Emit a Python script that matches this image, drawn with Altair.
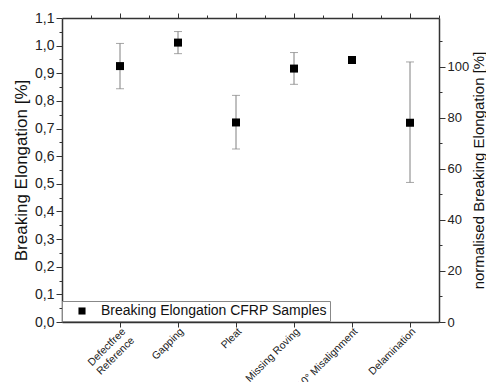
import altair as alt
import pandas as pd

categories = ["Defectfree Reference", "Gapping", "Pleat", "Missing Roving", "10° Misalignment", "Delamination"]
tick_labels = [["Defectfree", "Reference"], ["Gapping"], ["Pleat"], ["Missing Roving"], ["10° Misalignment"], ["Delamination"]]
means = [0.926, 1.011, 0.722, 0.917, 0.948, 0.721]
lower = [0.844, 0.971, 0.626, 0.860, 0.945, 0.505]
upper = [1.008, 1.051, 0.820, 0.975, 0.951, 0.941]
series_name = "Breaking Elongation CFRP Samples"

df = pd.DataFrame({
    "category": categories,
    "pos": list(range(1, len(categories) + 1)),
    "mean": means,
    "lower": lower,
    "upper": upper,
    "series": [series_name] * len(categories),
})
df["norm"] = df["mean"] / means[0] * 100

def js(v):
    if isinstance(v, list):
        return "[" + ",".join(js(x) for x in v) + "]"
    return "'" + v.replace("'", "\\'") + "'"

label_arr = "[''," + ",".join(js(l) for l in tick_labels) + "]"
x_label_expr = f"(datum.value % 1 == 0 && datum.value >= 1 && datum.value <= 6) ? {label_arr}[datum.value] : ''"

FONT = "Liberation Sans"
AX = "#333333"

xscale = alt.Scale(domain=[0, 6.5], nice=False, zero=False)
yscale = alt.Scale(domain=[0, 1.1], nice=False, zero=True)

x_axis = alt.Axis(
    values=[1, 2, 3, 4, 5, 6], labelExpr=x_label_expr, labelAngle=-45, labelAlign="right",
    labelBaseline="top", labelFontSize=10.5, labelPadding=-1, tickSize=5, title=None, grid=False,
    labelOverlap=False, labelBound=False, labelFlush=False,
    domainColor=AX, domainWidth=1.5, tickColor=AX, labelColor="#222",
)
y_vals = [round(i * 0.05, 2) for i in range(23)]
y_axis = alt.Axis(
    values=y_vals, labelOverlap=False, labelSeparation=0,
    labelExpr="round(datum.value*20) % 2 == 0 ? replace(format(datum.value, '.1f'), '.', ',') : ''",
    tickSize={"condition": {"test": "round(datum.value*20) % 2 == 0", "value": 6}, "value": 3},
    labelFontSize=14, labelPadding=2, title="Breaking Elongation [%]", titleFontSize=17,
    titleFontWeight="normal", titlePadding=4, grid=False, domainColor=AX, domainWidth=1.5,
    tickColor=AX, labelColor="#222", titleColor="#111",
)

base = alt.Chart(df).encode(x=alt.X("pos:Q", scale=xscale, axis=x_axis))
rules = base.mark_rule(color="#808080", strokeWidth=1).encode(
    y=alt.Y("lower:Q", scale=yscale, axis=y_axis), y2="upper:Q")
cap_hi = base.mark_tick(color="#808080", size=8, thickness=1, orient="horizontal").encode(
    y=alt.Y("upper:Q", scale=yscale, axis=y_axis))
cap_lo = base.mark_tick(color="#808080", size=8, thickness=1, orient="horizontal").encode(
    y=alt.Y("lower:Q", scale=yscale, axis=y_axis))
pts = base.mark_square(size=64, opacity=1).encode(
    y=alt.Y("mean:Q", scale=yscale, axis=y_axis),
    color=alt.Color("series:N", scale=alt.Scale(range=["black"]), legend=alt.Legend(
        title=None, orient="none", legendX=0, legendY=283, direction="vertical",
        labelFontSize=14, labelColor="#111", labelLimit=0, symbolType="square", symbolSize=50,
        symbolOffset=10, labelOffset=12, padding=3, strokeColor="#888888",
        fillColor="white", symbolStrokeWidth=0,
    )),
)
main = alt.layer(rules, cap_hi, cap_lo, pts)

r_vals = list(range(0, 120, 10))
right = alt.Chart(df).mark_point(opacity=0).encode(
    x=alt.X("pos:Q", scale=xscale, axis=alt.Axis(
        orient="top", values=[0.5 * i for i in range(1, 14)], labels=False, title=None,
        tickSize={"condition": {"test": "datum.value % 1 == 0", "value": 5}, "value": 3},
        grid=False, domainColor=AX, domainWidth=1.5, tickColor=AX)),
    y=alt.Y("norm:Q", scale=alt.Scale(domain=[0, 119.2], nice=False, zero=True), axis=alt.Axis(
        orient="right", values=r_vals, labelOverlap=False, labelSeparation=0,
        labelExpr="datum.value % 20 == 0 ? format(datum.value, 'd') : ''",
        tickSize={"condition": {"test": "datum.value % 20 == 0", "value": 6}, "value": 3},
        labelFontSize=13, labelPadding=2, title="normalised Breaking Elongation [%]",
        titleAngle=270, titleFontSize=15, titleFontWeight="normal", titlePadding=18,
        grid=False, domainColor=AX, domainWidth=1.5, tickColor=AX, labelColor="#222",
        titleColor="#111")),
)

chart = alt.layer(main, right).resolve_scale(x="independent", y="independent").properties(
    width=377, height=304,
    autosize=alt.AutoSizeParams(type="none"),
    padding={"left": 54, "top": 10, "right": 47, "bottom": 60},
    background="white",
).configure(font=FONT).configure_view(stroke=None)

chart.save("out.html", embed_options={"renderer": "svg", "actions": False})
